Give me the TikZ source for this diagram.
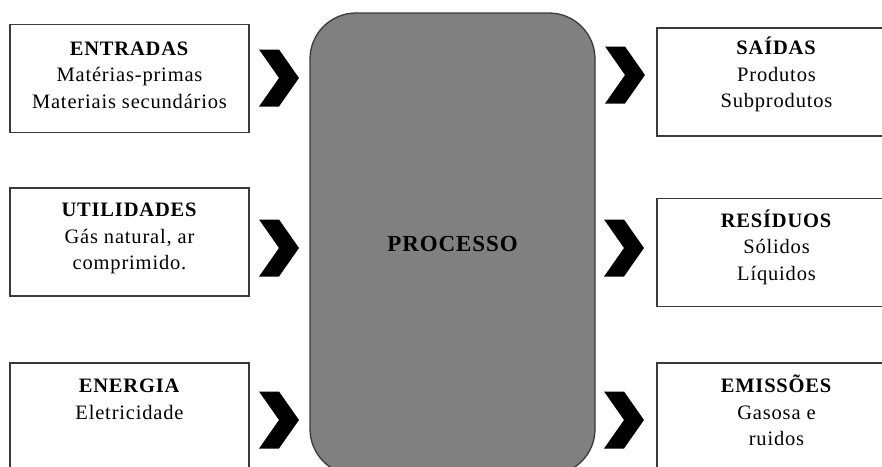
\documentclass[tikz,border=0pt]{standalone}
\usepackage{fontspec}
\setmainfont[LetterSpace=4]{Liberation Serif}
\usetikzlibrary{positioning,shapes.symbols}
\definecolor{procgray}{HTML}{808080}
\definecolor{edgegray}{HTML}{3A3A3A}

\begin{document}
\begin{tikzpicture}[
    x=1pt, y=-1pt,
    font=\fontsize{20.5}{26.5}\selectfont,
    box/.style={
        rectangle,
        draw=edgegray,
        line width=1.3pt,
        fill=white,
        minimum width=239pt,
        minimum height=108pt,
        inner sep=0pt
    },
    boxtext/.style={
        align=center,
        anchor=north,
        inner sep=0pt
    },
    chevron/.style={
        signal,
        signal from=west,
        signal to=east,
        signal pointer angle=110,
        fill=black,
        minimum width=38pt,
        minimum height=57pt,
        inner sep=0pt
    },
    process/.style={
        rectangle,
        rounded corners=46pt,
        draw=edgegray,
        line width=1.3pt,
        fill=procgray,
        minimum width=285pt,
        minimum height=462pt,
        font=\fontsize{23}{28}\selectfont\bfseries
    }
]

\useasboundingbox (0,0) rectangle (882,466);
\clip (0,0) rectangle (882,466);

\node[process] (processo) at (452.5,244) {PROCESSO};

% entradas do processo
\node[box] (entradas) at (129.5,78.5) {};
\node[box] (utilidades) at (129.5,242) {};
\node[box] (energia) at (129.5,417) {};

\node[boxtext] (entradastxt) at ([yshift=-12.5pt]entradas.north)
{\strut\textbf{ENTRADAS}\\Matérias-primas\\Materiais secundários};
\node[boxtext] (utilidadestxt) at ([yshift=-10.5pt]utilidades.north)
{\strut\textbf{UTILIDADES}\\Gás natural, ar\\comprimido.};
\node[boxtext] (energiatxt) at ([yshift=-11.5pt]energia.north)
{\strut\textbf{ENERGIA}\\Eletricidade};

\node[chevron] (cin1) at (279,78) {};
\node[chevron] (cin2) at (279,248) {};
\node[chevron] (cin3) at (279,420) {};

% saidas do processo
\node[box] (saidas) at (776.5,82) {};
\node[box] (residuos) at (776.5,252.5) {};
\node[box] (emissoes) at (776.5,417) {};

\node[boxtext] (saidastxt) at ([yshift=-8.5pt]saidas.north)
{\strut\textbf{SAÍDAS}\\Produtos\\Subprodutos};
\node[boxtext] (residuostxt) at ([yshift=-10.5pt]residuos.north)
{\strut\textbf{RESÍDUOS}\\Sólidos\\Líquidos};
\node[boxtext] (emissoestxt) at ([yshift=-11.5pt]emissoes.north)
{\strut\textbf{EMISSÕES}\\Gasosa e\\ruidos};

\node[chevron] (cout1) at (625,75) {};
\node[chevron] (cout2) at (624,248) {};
\node[chevron] (cout3) at (624,420) {};

\end{tikzpicture}
\end{document}
